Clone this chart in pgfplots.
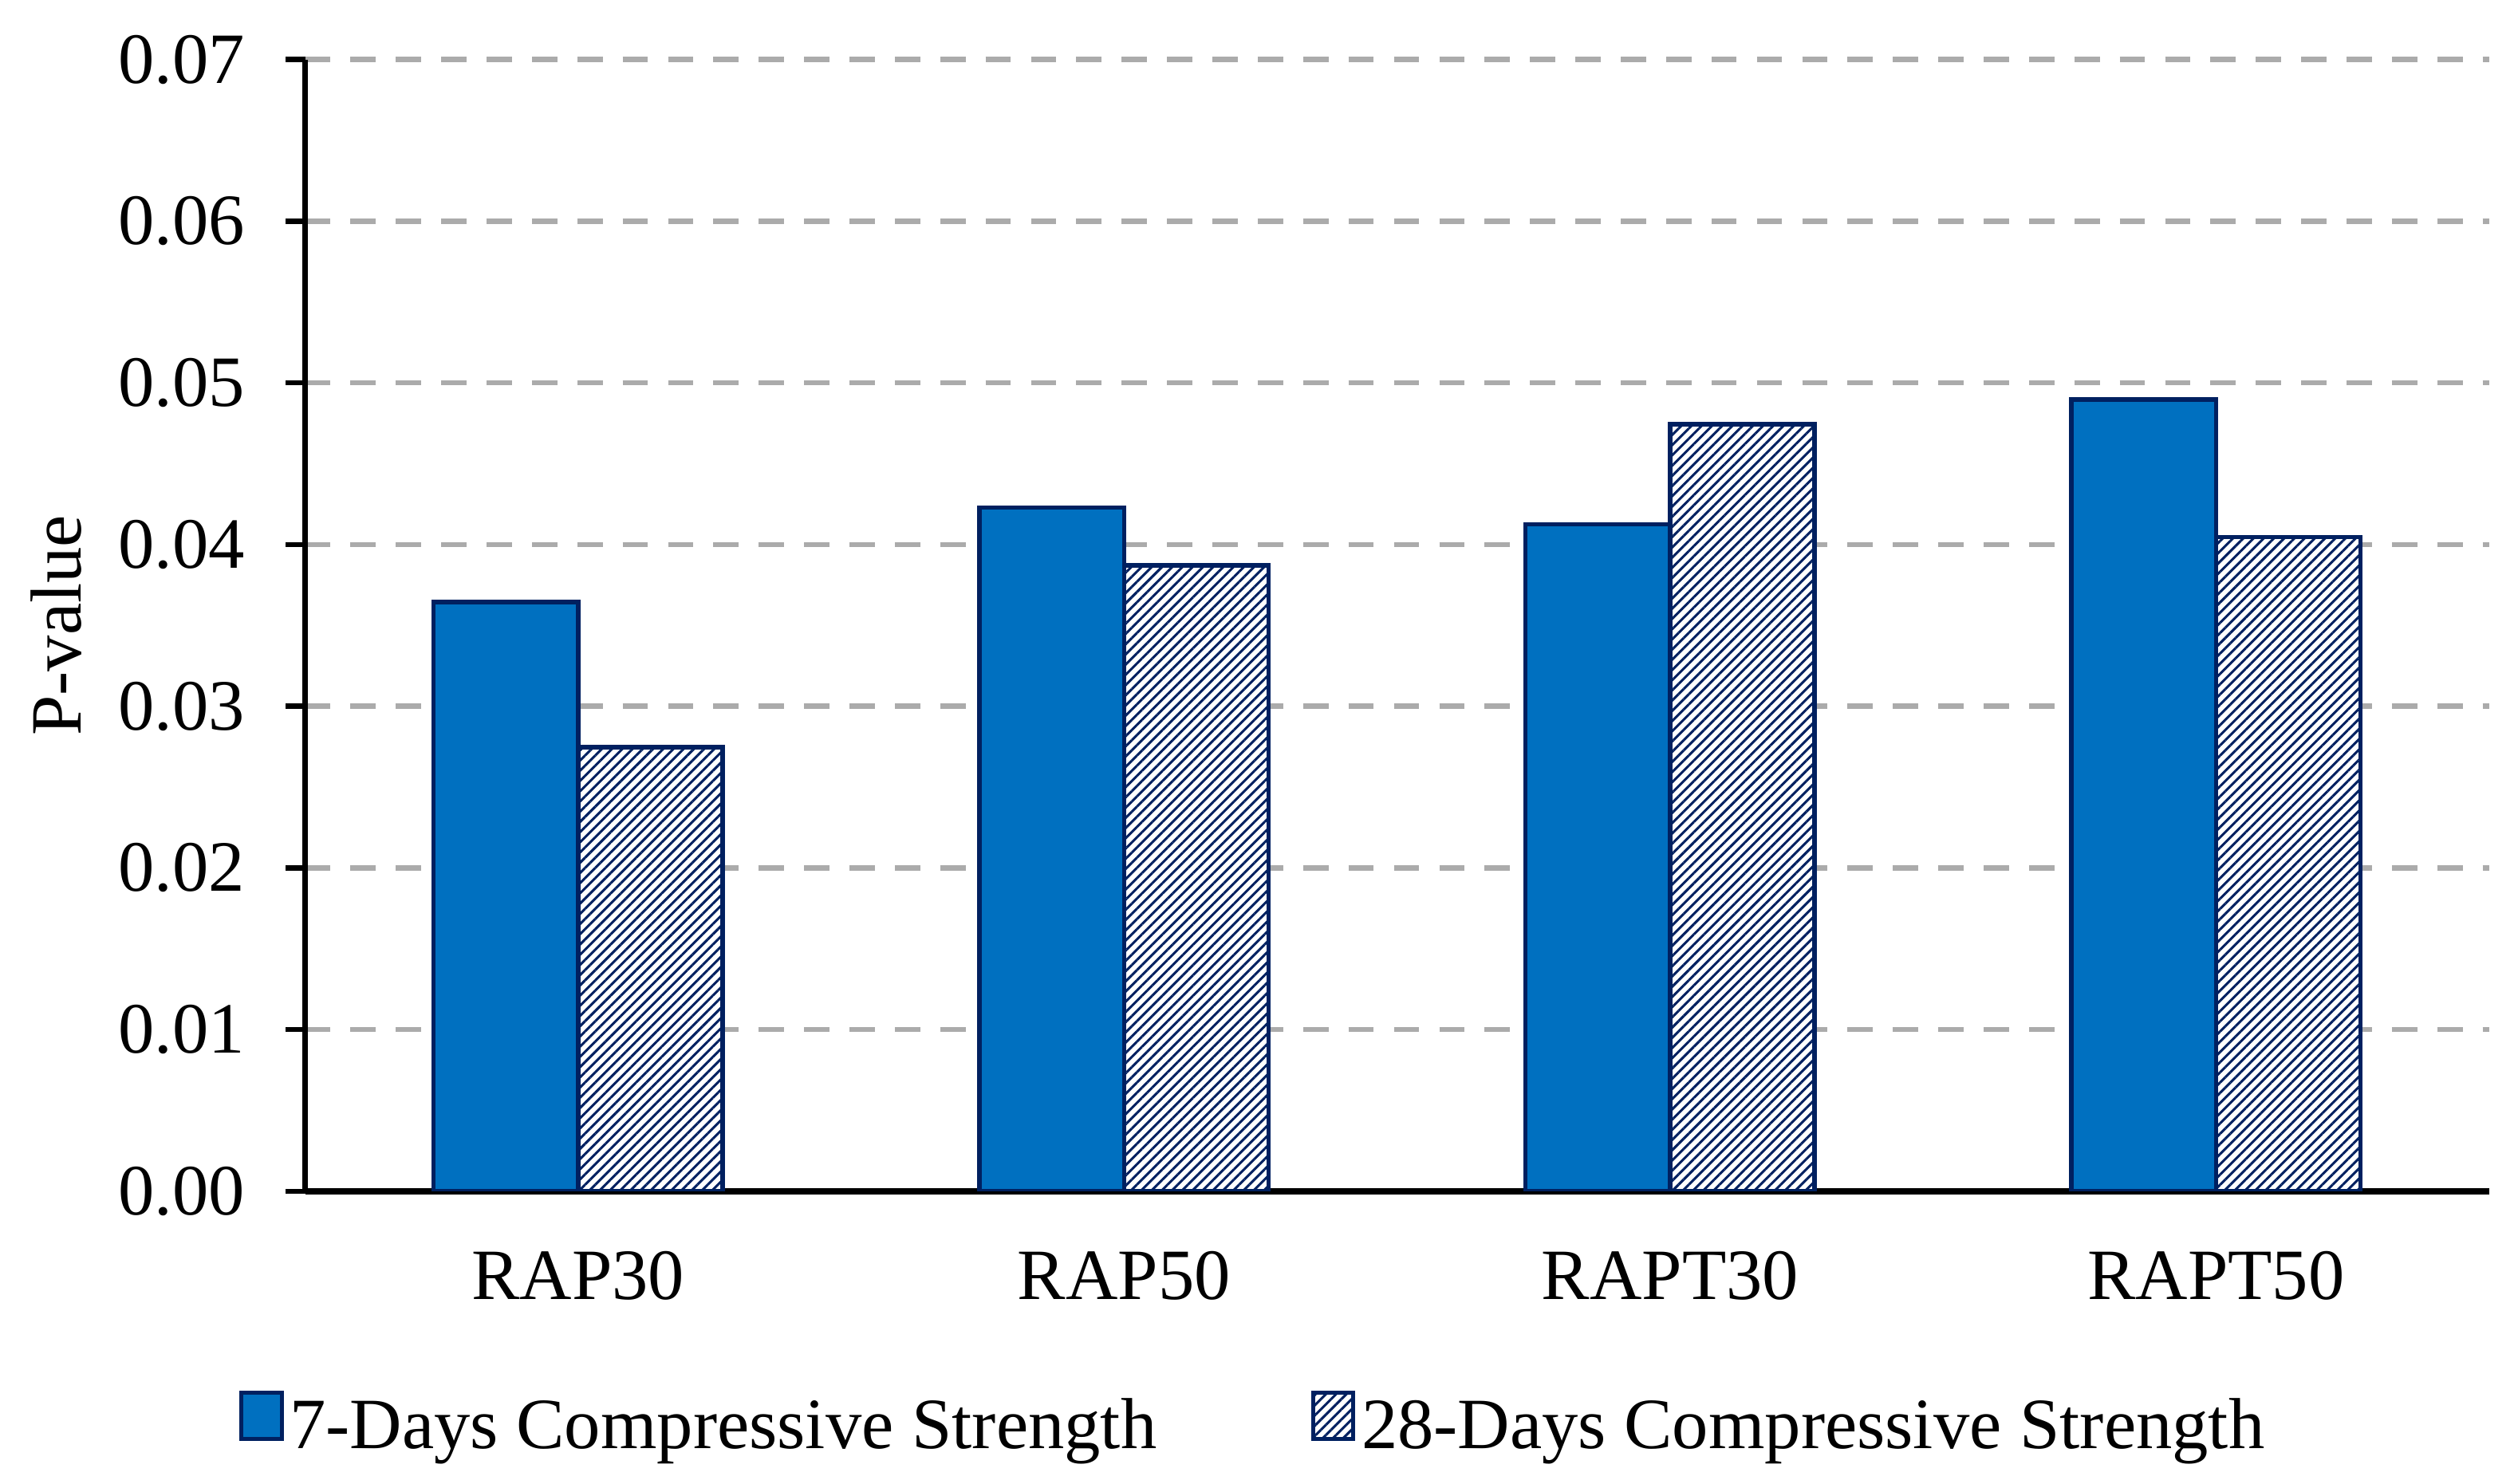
\documentclass[border=0pt]{standalone}
\usepackage{fontspec}
\setmainfont{Liberation Serif}
\usepackage{pgfplots}
\pgfplotsset{compat=1.18}
\usetikzlibrary{patterns.meta}
\definecolor{barblue}{HTML}{0070C0}
\definecolor{navy}{HTML}{002060}
\definecolor{gridgray}{HTML}{ABABAB}
\begin{document}
\fontsize{18}{22}\selectfont
\begin{tikzpicture}
\useasboundingbox (-76pt,-72.8pt) rectangle (551.2pt,296.8pt);
\begin{axis}[
  at={(0,0)}, anchor=south west,
  scale only axis, width=544pt, height=282pt,
  ybar=0pt, bar width=36pt,
  xmin=-0.5, xmax=3.5,
  ymin=0, ymax=0.07,
  ytick={0,0.01,...,0.07},
  scaled y ticks=false,
  /pgf/number format/assume math mode=true,
  yticklabel style={/pgf/number format/fixed, /pgf/number format/fixed zerofill, /pgf/number format/precision=2, inner sep=0pt, xshift=-10pt},
  xtick={0,1,2,3},
  xticklabels={RAP30,RAP50,RAPT30,RAPT50},
  xtick style={draw=none},
  minor xtick={-0.5,0.5,1.5,2.5,3.5},
  minor tick length=5.3pt,
  major tick length=4.8pt,
  xticklabel style={inner sep=0pt, yshift=-10pt},
  tick align=outside,
  axis x line*=bottom,
  axis y line*=left,
  x axis line style={line width=1.45pt, -},
  y axis line style={line width=1.3pt, -},
  every tick/.style={black, line width=1.3pt},
  ymajorgrids,
  grid style={gridgray, line width=1.3pt, dash pattern=on 6.3pt off 5pt},
  ylabel={P-value},
  ylabel style={at={(axis description cs:-0.114,0.5)}, anchor=center},
  legend columns=2,
  legend style={draw=none, fill=none, at={(axis description cs:0.435,-0.209)}, anchor=center,
    /tikz/every even column/.append style={column sep=37pt},
    nodes={inner sep=1.5pt}},
  legend image code/.code={\draw[#1, line width=1pt] (0pt,-2.5pt) rectangle (10pt,9pt);},
]
\addplot[fill=barblue, draw=navy, line width=1.1pt] coordinates {(0,0.03644) (1,0.04229) (2,0.04124) (3,0.04897)};
\addplot[fill=white, draw=navy, line width=1.1pt, postaction={pattern={Lines[angle=45,distance=1.8pt,line width=0.6pt]}, pattern color=navy}] coordinates {(0,0.02747) (1,0.0387) (2,0.04745) (3,0.04045)};
\legend{7-Days Compressive Strength, 28-Days Compressive Strength}
\end{axis}
\end{tikzpicture}
\end{document}
